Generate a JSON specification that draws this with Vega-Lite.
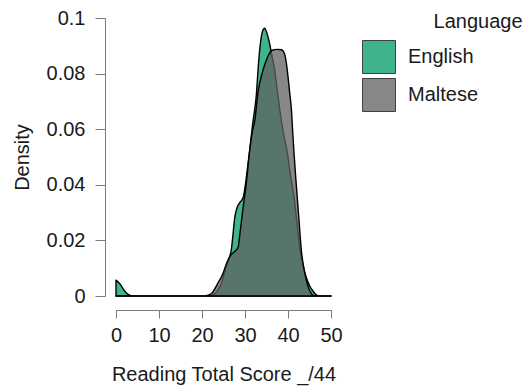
{
  "$schema": "https://vega.github.io/schema/vega-lite/v6.json",
  "width": 215,
  "height": 278,
  "autosize": {"type": "none"},
  "padding": {"left": 116, "top": 18, "right": 200, "bottom": 93},
  "background": "white",
  "config": {
    "font": "Liberation Sans",
    "view": {"stroke": null},
    "axis": {"grid": false, "domainColor": "#7a7a7a", "tickColor": "#7a7a7a", "labelColor": "#1a1a1a", "titleColor": "#1a1a1a", "labelFontSize": 20, "titleFontSize": 20, "titleFontWeight": "normal", "domainWidth": 1, "tickWidth": 1}
  },
  "data": {
    "values": [
      {"x": 0, "d": 0.0057, "Language": "English"},
      {"x": 1, "d": 0.0042, "Language": "English"},
      {"x": 2, "d": 0.0018, "Language": "English"},
      {"x": 3, "d": 0.0004, "Language": "English"},
      {"x": 4, "d": 0, "Language": "English"},
      {"x": 21.5, "d": 0, "Language": "English"},
      {"x": 23, "d": 0.0009, "Language": "English"},
      {"x": 24.5, "d": 0.0046, "Language": "English"},
      {"x": 25.7, "d": 0.0109, "Language": "English"},
      {"x": 26.3, "d": 0.0135, "Language": "English"},
      {"x": 26.8, "d": 0.0165, "Language": "English"},
      {"x": 27.2, "d": 0.022, "Language": "English"},
      {"x": 27.6, "d": 0.028, "Language": "English"},
      {"x": 28.2, "d": 0.032, "Language": "English"},
      {"x": 29.0, "d": 0.034, "Language": "English"},
      {"x": 29.6, "d": 0.0355, "Language": "English"},
      {"x": 30.0, "d": 0.039, "Language": "English"},
      {"x": 30.5, "d": 0.045, "Language": "English"},
      {"x": 31.1, "d": 0.0525, "Language": "English"},
      {"x": 31.8, "d": 0.062, "Language": "English"},
      {"x": 32.6, "d": 0.0717, "Language": "English"},
      {"x": 33.2, "d": 0.0849, "Language": "English"},
      {"x": 33.8, "d": 0.0933, "Language": "English"},
      {"x": 34.3, "d": 0.096, "Language": "English"},
      {"x": 34.6, "d": 0.0963, "Language": "English"},
      {"x": 35.0, "d": 0.095, "Language": "English"},
      {"x": 35.7, "d": 0.091, "Language": "English"},
      {"x": 36.3, "d": 0.086, "Language": "English"},
      {"x": 36.9, "d": 0.0813, "Language": "English"},
      {"x": 37.5, "d": 0.074, "Language": "English"},
      {"x": 38.1, "d": 0.0669, "Language": "English"},
      {"x": 39.0, "d": 0.058, "Language": "English"},
      {"x": 39.8, "d": 0.052, "Language": "English"},
      {"x": 40.6, "d": 0.043, "Language": "English"},
      {"x": 41.5, "d": 0.0345, "Language": "English"},
      {"x": 42.1, "d": 0.026, "Language": "English"},
      {"x": 42.7, "d": 0.0177, "Language": "English"},
      {"x": 43.5, "d": 0.011, "Language": "English"},
      {"x": 44.2, "d": 0.0069, "Language": "English"},
      {"x": 45.0, "d": 0.0038, "Language": "English"},
      {"x": 45.8, "d": 0.0018, "Language": "English"},
      {"x": 46.5, "d": 0.0005, "Language": "English"},
      {"x": 47.2, "d": 0, "Language": "English"},
      {"x": 50, "d": 0, "Language": "English"},
      {"x": 0, "d": 0, "Language": "Maltese"},
      {"x": 20.5, "d": 0, "Language": "Maltese"},
      {"x": 21.2, "d": 0.0002, "Language": "Maltese"},
      {"x": 22.2, "d": 0.0009, "Language": "Maltese"},
      {"x": 23.7, "d": 0.0046, "Language": "Maltese"},
      {"x": 24.9, "d": 0.0082, "Language": "Maltese"},
      {"x": 25.7, "d": 0.0117, "Language": "Maltese"},
      {"x": 26.6, "d": 0.0145, "Language": "Maltese"},
      {"x": 27.6, "d": 0.016, "Language": "Maltese"},
      {"x": 28.4, "d": 0.0175, "Language": "Maltese"},
      {"x": 28.9, "d": 0.0235, "Language": "Maltese"},
      {"x": 29.5, "d": 0.031, "Language": "Maltese"},
      {"x": 30.3, "d": 0.0405, "Language": "Maltese"},
      {"x": 31.1, "d": 0.0525, "Language": "Maltese"},
      {"x": 31.7, "d": 0.059, "Language": "Maltese"},
      {"x": 32.3, "d": 0.0633, "Language": "Maltese"},
      {"x": 33.0, "d": 0.073, "Language": "Maltese"},
      {"x": 34.2, "d": 0.0813, "Language": "Maltese"},
      {"x": 35.0, "d": 0.085, "Language": "Maltese"},
      {"x": 35.7, "d": 0.0874, "Language": "Maltese"},
      {"x": 36.3, "d": 0.0884, "Language": "Maltese"},
      {"x": 37.5, "d": 0.0887, "Language": "Maltese"},
      {"x": 38.5, "d": 0.0886, "Language": "Maltese"},
      {"x": 39.1, "d": 0.0875, "Language": "Maltese"},
      {"x": 39.6, "d": 0.084, "Language": "Maltese"},
      {"x": 40.0, "d": 0.0789, "Language": "Maltese"},
      {"x": 40.4, "d": 0.073, "Language": "Maltese"},
      {"x": 40.8, "d": 0.0669, "Language": "Maltese"},
      {"x": 41.1, "d": 0.059, "Language": "Maltese"},
      {"x": 41.4, "d": 0.0514, "Language": "Maltese"},
      {"x": 41.9, "d": 0.0405, "Language": "Maltese"},
      {"x": 42.5, "d": 0.0285, "Language": "Maltese"},
      {"x": 43.1, "d": 0.0165, "Language": "Maltese"},
      {"x": 43.9, "d": 0.0082, "Language": "Maltese"},
      {"x": 45.0, "d": 0.0021, "Language": "Maltese"},
      {"x": 46.2, "d": 0, "Language": "Maltese"},
      {"x": 50, "d": 0, "Language": "Maltese"}
    ]
  },
  "mark": {"type": "area", "interpolate": "monotone", "stroke": "black", "strokeWidth": 1.4, "strokeJoin": "round", "fillOpacity": 0.75},
  "encoding": {
    "x": {"field": "x", "type": "quantitative", "scale": {"domain": [0, 50], "nice": false},
      "axis": {"title": "Reading Total Score _/44", "values": [0, 10, 20, 30, 40, 50], "offset": 14, "tickSize": 8, "labelPadding": 7, "titlePadding": 19, "labelFlush": false}},
    "y": {"field": "d", "type": "quantitative", "stack": null, "scale": {"domain": [0, 0.1], "nice": false},
      "axis": {"title": "Density", "values": [0, 0.02, 0.04, 0.06, 0.08, 0.1], "format": "~g", "offset": 11, "tickSize": 10, "labelPadding": 10, "titlePadding": 14, "labelFlush": false}},
    "color": {"field": "Language", "type": "nominal",
      "scale": {"domain": ["English", "Maltese"], "range": ["#009b66", "#606060"]},
      "legend": {"orient": "none", "legendX": 246, "legendY": -6, "title": "Language", "titleFontSize": 20, "titleFontWeight": "normal", "titleColor": "#1a1a1a", "titleAnchor": "end", "titleAlign": "center", "titlePadding": 8, "labelFontSize": 20, "labelColor": "#1a1a1a", "labelOffset": 12, "symbolType": "square", "symbolSize": 1089, "symbolStrokeColor": "black", "symbolStrokeWidth": 1, "symbolOpacity": 0.75, "rowPadding": 0}}
  }
}
